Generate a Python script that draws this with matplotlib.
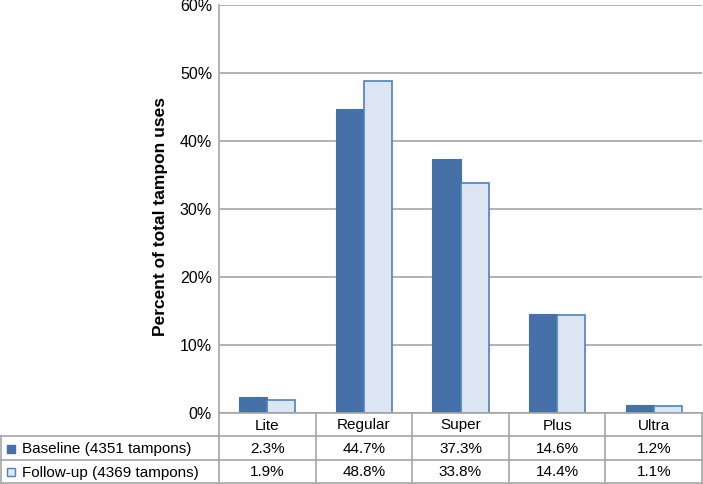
import numpy as np
import matplotlib
matplotlib.use("Agg")
from matplotlib import pyplot as plt
from matplotlib.patches import Rectangle

plt.rcParams['font.family'] = ['Liberation Sans', 'DejaVu Sans']

# 数据
categories = ['Lite', 'Regular', 'Super', 'Plus', 'Ultra']
baseline = [2.3, 44.7, 37.3, 14.6, 1.2]
followup = [1.9, 48.8, 33.8, 14.4, 1.1]
series_names = ['Baseline (4351 tampons)', 'Follow-up (4369 tampons)']
yticks = [0, 10, 20, 30, 40, 50, 60]

dark = '#4571A8'
light = '#DCE6F2'
light_edge = '#4F81BD'
line_col = '#A6A6A6'

W, H = 703, 484
fig = plt.figure(figsize=(W / 100, H / 100), dpi=100)

# 主图区域
x0, x1 = 219, 702
y_top, y_zero = 5, 413
ax = fig.add_axes([x0 / W, 1 - y_zero / H, (x1 - x0) / W, (y_zero - y_top) / H])

n = len(categories)
x = np.arange(n) + 0.5
bw = 0.29
ax.bar(x - bw / 2, baseline, bw, color=dark, edgecolor=dark, linewidth=0.8, zorder=3)
ax.bar(x + bw / 2, followup, bw, color=light, edgecolor=light_edge, linewidth=1.2, zorder=3)

ax.set_xlim(0, n)
ax.set_ylim(0, 60)
ax.set_yticks(yticks)
ax.set_yticklabels(['%d%%' % t for t in yticks], fontsize=11.5)
ax.set_xticks([])
ax.tick_params(axis='y', length=0, pad=5)
ax.yaxis.grid(True, color=line_col, linewidth=1.2, zorder=0)
for s in ['top', 'right', 'bottom']:
    ax.spines[s].set_visible(False)
ax.spines['left'].set_color(line_col)
ax.spines['left'].set_linewidth(1.2)

# y轴标题
fig.text(161 / W, 1 - 216 / H, 'Percent of total tampon uses', rotation=90,
         ha='center', va='center', fontsize=12.5, fontweight='bold')

# 表格
tax = fig.add_axes([0, 0, 1, 1])
tax.set_xlim(0, W)
tax.set_ylim(H, 0)
tax.axis('off')

col_w = (x1 - x0) / n
rows = [413, 436, 460, 483]
lw = 1.2
# 横线
tax.plot([x0, x1], [rows[0], rows[0]], color=line_col, lw=lw)
for r in rows[1:]:
    tax.plot([0, x1], [r, r], color=line_col, lw=lw)
# 竖线
tax.plot([0.5, 0.5], [rows[1], rows[3]], color=line_col, lw=lw)
for i in range(n + 1):
    xx = x0 + i * col_w
    tax.plot([xx, xx], [rows[0], rows[3]], color=line_col, lw=lw)

fs = 11
for i, c in enumerate(categories):
    tax.text(x0 + (i + 0.5) * col_w, (rows[0] + rows[1]) / 2 + 1, c, ha='center', va='center', fontsize=fs)

for j, (name, vals, fc, ec) in enumerate([(series_names[0], baseline, dark, dark),
                                         (series_names[1], followup, light, light_edge)]):
    yc = (rows[j + 1] + rows[j + 2]) / 2 + 1
    tax.add_patch(Rectangle((7, yc - 4.5), 8, 8, facecolor=fc, edgecolor=ec, lw=1))
    tax.text(22, yc, name, ha='left', va='center', fontsize=fs)
    for i, v in enumerate(vals):
        tax.text(x0 + (i + 0.5) * col_w, yc, '%.1f%%' % v, ha='center', va='center', fontsize=fs)

fig.savefig('out.png', dpi=100)
